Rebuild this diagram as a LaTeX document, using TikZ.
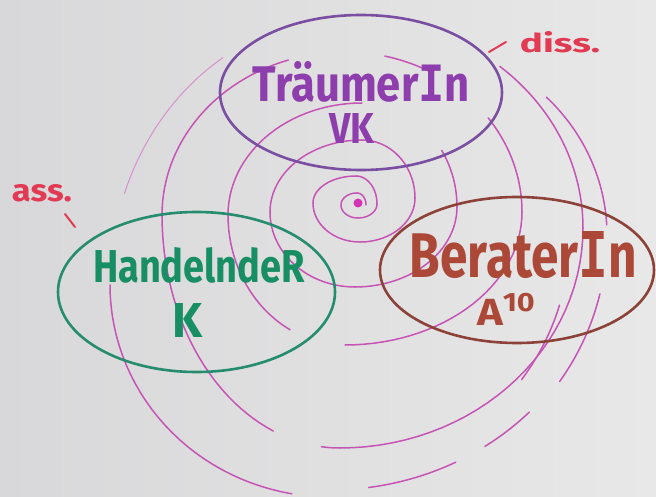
\documentclass[tikz,border=0pt]{standalone}
\usepackage{fontspec}
\setmainfont{Fira Sans}
\newfontfamily\barfont{DejaVu Sans Mono}
\usetikzlibrary{shapes.geometric}
\definecolor{boardL}{RGB}{216,216,218}
\definecolor{boardR}{RGB}{232,232,232}
\definecolor{swirlc}{RGB}{198,84,180}
\definecolor{swirlfaint}{RGB}{214,150,205}
\definecolor{dotc}{RGB}{214,50,182}
\definecolor{dreamring}{RGB}{122,78,160}
\definecolor{dreamtext}{RGB}{142,62,172}
\definecolor{actring}{RGB}{38,140,110}
\definecolor{acttext}{RGB}{24,142,100}
\definecolor{critring}{RGB}{140,66,56}
\definecolor{crittext}{RGB}{172,72,56}
\definecolor{notec}{RGB}{226,58,82}
\newcommand\handtxt[3]{\resizebox{#1pt}{#2pt}{\bfseries #3}}
\newcommand\barI{{\barfont\bfseries I}}
\newcommand\sparc[7][]{\draw[swirl,#1] plot[domain=#6:#7,samples=30,variable=\t] ({#2+#4*cos(\t)},{#3+#5*sin(\t)});}
\begin{document}
\begin{tikzpicture}[x=1pt,y=-1pt,
  swirl/.style={draw=swirlc,line width=1.5pt,line cap=round,line join=round},
  faint/.style={draw=swirlfaint,line width=1.1pt},
  ring/.style={ellipse,inner sep=0pt,line width=2.6pt,fill=none},
  txt/.style={inner sep=0pt,outer sep=0pt},
  tick/.style={draw=notec,line width=2pt,line cap=round}]
\useasboundingbox (0,0) rectangle (656,497);
\shade[left color=boardL,right color=boardR] (0,0) rectangle (656,497);

% inner spiral
\sparc{357}{205}{9}{12}{0}{-90}
\sparc{357}{205}{16}{12}{-90}{-180}
\sparc{358}{205}{17}{13}{180}{90}
\sparc{358}{204}{19}{14}{90}{0}
\sparc{356}{204}{21}{28}{0}{-90}
\sparc{356}{203}{43}{27}{-90}{-180}
\sparc{360}{203}{47}{39}{180}{90}
\sparc{360}{198}{55}{44}{90}{0}
\sparc{362}{198}{53}{58}{0}{-90}
\sparc{362}{212}{92}{72}{-90}{-180}
\sparc{355}{212}{85}{75}{180}{90}
\sparc{355}{207}{102}{80}{90}{0}
\sparc{362}{207}{95}{104}{0}{-33}
% ring 4
\sparc{362}{215}{134}{112}{-90}{-180}
\sparc{345}{215}{117}{130}{180}{118}
\sparc{345}{212}{177}{133}{90}{0}
\sparc{345}{212}{177}{160}{0}{-36}
\sparc{345}{212}{177}{160}{-60}{-77}
% ring 5
\sparc{345}{215}{183}{163}{-108}{-180}
\sparc{340}{215}{178}{233}{180}{112}
\sparc{340}{215}{178}{233}{96}{90}
\sparc{340}{228}{243}{220}{90}{0}
\sparc{350}{228}{233}{211}{0}{-50}
% ring 6
\sparc[faint]{350}{285}{240}{268}{-122}{-160}
\sparc{330}{285}{220}{212}{180}{100}
\sparc{330}{235}{277}{255}{82}{63}
\sparc{330}{235}{277}{255}{56}{44}
\sparc{330}{235}{240}{240}{37}{17}
\sparc{330}{235}{277}{262}{34}{13}
\sparc{400}{235}{207}{195}{-3}{-45}
\fill[dotc] (358,203) circle[radius=4.5];

% ellipses
\node[ring,draw=dreamring,minimum width=282pt,minimum height=155pt] (dreamE) at (361,92.5) {};
\node[ring,draw=actring,minimum width=277pt,minimum height=160pt] (actE) at (196.5,292) {};
\node[ring,draw=critring,minimum width=274pt,minimum height=146pt] (critE) at (517,270) {};

% texts
\node[txt,text=dreamtext] (dreamname) at (361.5,82) {\handtxt{217}{40}{Träumer\barI n}};
\node[txt,text=dreamtext] (dreamcode) at (352,129) {\handtxt{45}{30}{VK}};
\node[txt,text=acttext] (actname) at (199,265.5) {\handtxt{212}{35}{HandelndeR}};
\node[txt,text=acttext] (actcode) at (188,320) {\handtxt{30}{34}{K}};
\node[txt,text=crittext] (critname) at (523.5,255) {\handtxt{227}{46}{Berater\barI n}};
\node[txt,text=crittext] (critcode) at (507,309) {\handtxt{60}{32}{A\textsuperscript{10}}};
\node[txt,text=notec] (dissnote) at (560,42.5) {\handtxt{80}{21}{diss.}};
\node[txt,text=notec] (assnote) at (42,193.5) {\handtxt{60}{17}{ass.}};

% ticks
\coordinate (disst1) at (489,52);
\coordinate (disst2) at (506,42);
\coordinate (asst1) at (65,214);
\coordinate (asst2) at (75,227);
\draw[tick] (disst1) -- (disst2);
\draw[tick] (asst1) -- (asst2);
\end{tikzpicture}
\end{document}
